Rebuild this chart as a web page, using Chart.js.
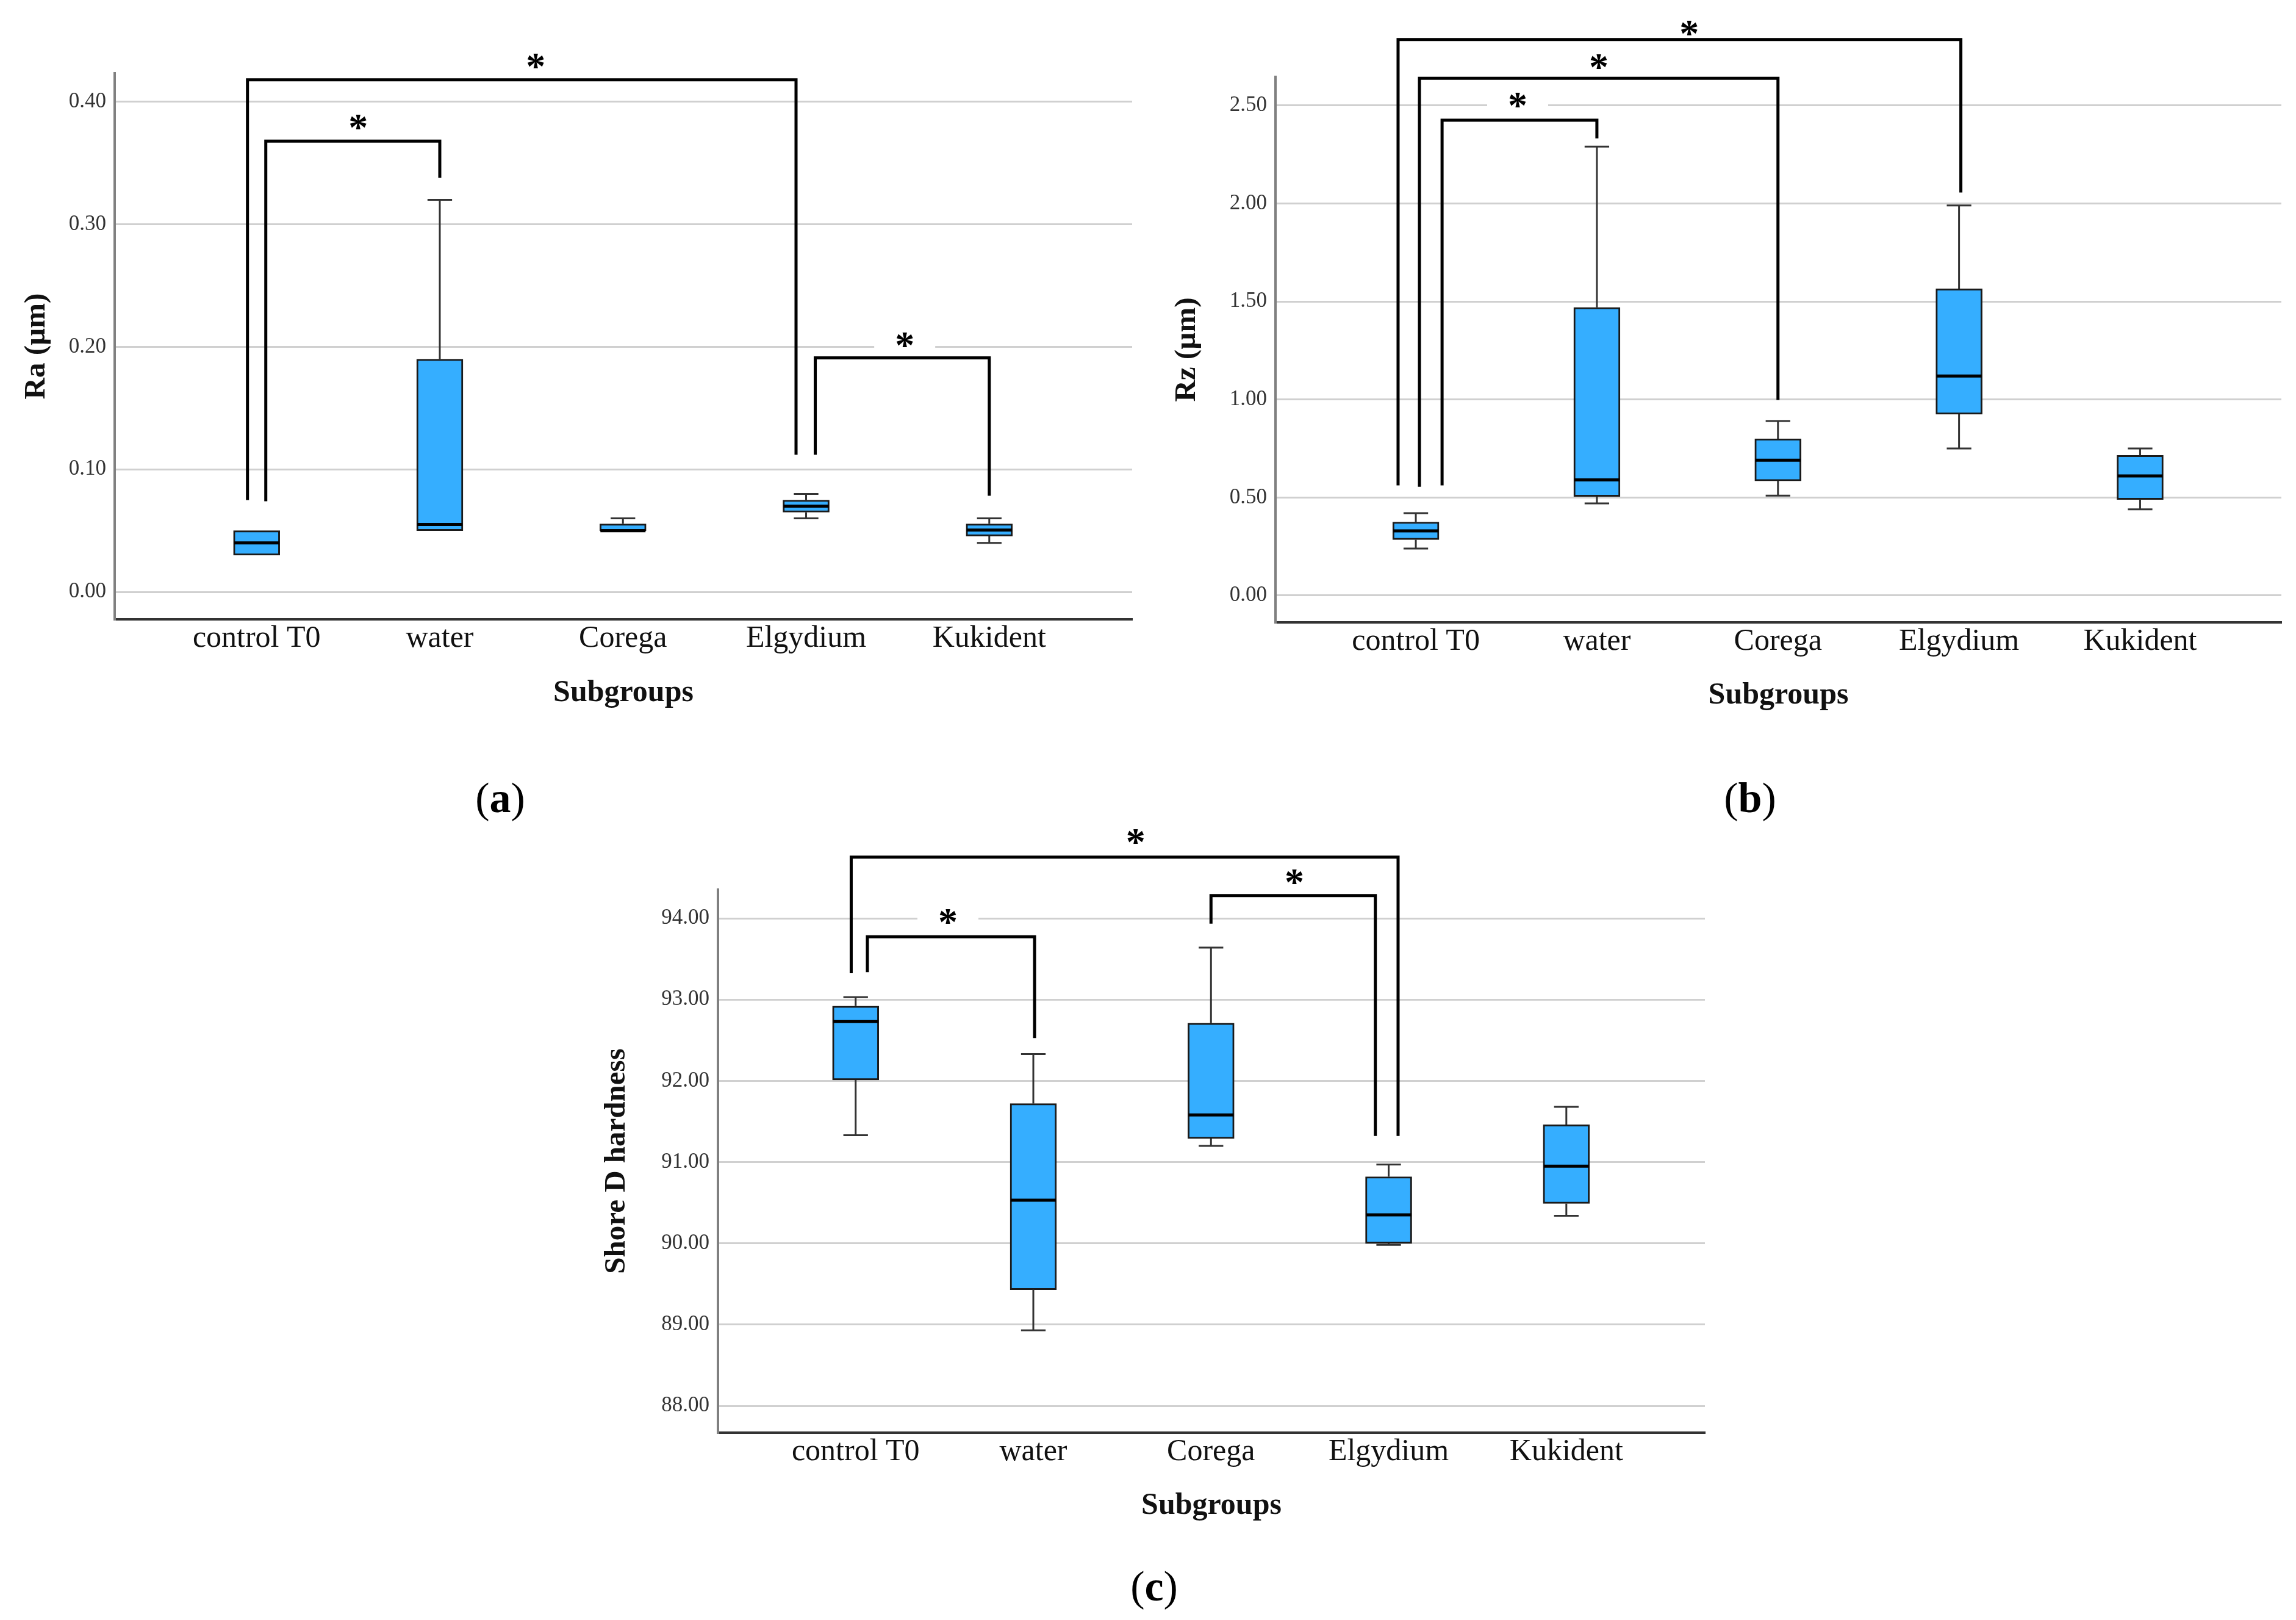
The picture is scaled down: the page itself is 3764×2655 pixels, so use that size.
<!DOCTYPE html>
<html>
<head>
<meta charset="utf-8">
<script src="https://cdn.jsdelivr.net/npm/chart.js@4.4.0/dist/chart.umd.min.js"></script>
<style>
html, body { margin: 0; padding: 0; background: #fff; }
body { width: 3764px; height: 2655px; position: relative; overflow: hidden; }
.panel { position: absolute; }
.tag { position: absolute; font-family: 'Liberation Serif', serif; font-size: 70px; color: #000;
       transform: translate(-50%, -50%); line-height: 1; white-space: nowrap; }
</style>
</head>
<body>
<div class="panel" style="left:0;top:0;width:1880px;height:1200px"><canvas id="chartA"></canvas></div>
<div class="panel" style="left:1880px;top:0;width:1884px;height:1200px"><canvas id="chartB"></canvas></div>
<div class="panel" style="left:950px;top:1300px;width:1900px;height:1355px"><canvas id="chartC"></canvas></div>
<div class="tag" style="left:820px;top:1308px">(<b>a</b>)</div>
<div class="tag" style="left:2869px;top:1308px">(<b>b</b>)</div>
<div class="tag" style="left:1892px;top:2600px">(<b>c</b>)</div>
<script>
const categories = ['control T0', 'water', 'Corega', 'Elgydium', 'Kukident'];

// (a) Ra (µm)
const raMin    = [0.03, 0.05, 0.05, 0.06, 0.04];
const raQ1     = [0.03, 0.05, 0.05, 0.065, 0.0455];
const raMedian = [0.04, 0.055, 0.05, 0.07, 0.0505];
const raQ3     = [0.05, 0.19, 0.0555, 0.075, 0.0555];
const raMax    = [0.05, 0.32, 0.06, 0.08, 0.06];

// (b) Rz (µm)
const rzMin    = [0.24, 0.47, 0.51, 0.75, 0.44];
const rzQ1     = [0.285, 0.505, 0.585, 0.925, 0.49];
const rzMedian = [0.33, 0.59, 0.69, 1.12, 0.61];
const rzQ3     = [0.375, 1.47, 0.80, 1.565, 0.715];
const rzMax    = [0.42, 2.29, 0.89, 1.99, 0.75];

// (c) Shore D hardness
const hdMin    = [91.33, 88.93, 91.20, 89.98, 90.34];
const hdQ1     = [92.01, 89.43, 91.29, 90.00, 90.49];
const hdMedian = [92.73, 90.53, 91.58, 90.35, 90.95];
const hdQ3     = [92.92, 91.72, 92.71, 90.82, 91.46];
const hdMax    = [93.03, 92.33, 93.64, 90.97, 91.68];

// significance brackets: [from, to, bracket top, left end, right end]
const raPairs = [[0, 3, 0.418, 0.075, 0.112], [0, 1, 0.368, 0.074, 0.338], [3, 4, 0.191, 0.112, 0.0785]];
const rzPairs = [[0, 3, 2.837, 0.562, 2.056], [0, 2, 2.639, 0.555, 0.998], [0, 1, 2.425, 0.562, 2.332]];
const hdPairs = [[0, 3, 94.752, 93.325, 91.321], [0, 1, 93.773, 93.338, 92.527], [2, 3, 94.279, 93.935, 91.321]];

// horizontal nudge of bracket legs (in category units) so they don't overlap
const raLegShift = [[-0.05, -0.055], [0.05, 0], [0.05, 0]];
const rzLegShift = [[-0.098, 0.01], [0.02, 0], [0.145, 0]];
const hdLegShift = [[-0.025, 0.053], [0.066, 0.007], [0, -0.075]];

// asterisk placement relative to bracket middle / top (px)
const raStarPos = [[23, 31], [9, 31], [4, 30]];
const rzStarPos = [[16, 19], [0, 27], [-3, 33]];
const hdStarPos = [[18, 34], [-5, 33], [2, 31]];

Chart.defaults.font.family = "'Liberation Serif', serif";
Chart.defaults.color = '#222';

function boxExtras(stats, pairs, shifts, stars) {
    const starAt = (x, y, p, k) => {
        const x1 = x.getPixelForValue(p[0] + shifts[k][0]);
        const x2 = x.getPixelForValue(p[1] + shifts[k][1]);
        return [(x1 + x2) / 2 + stars[k][0], y.getPixelForValue(p[2]) - stars[k][1]];
    };
    return {
        id: 'boxExtras',
        beforeDatasetsDraw(chart) {
            const { ctx, scales: { x, y } } = chart;
            ctx.save();
            ctx.fillStyle = '#fff';
            pairs.forEach((p, k) => {
                const [sx, sy] = starAt(x, y, p, k);
                ctx.fillRect(sx - 50, sy - 22, 100, 44);
            });
            ctx.restore();
        },
        afterDatasetsDraw(chart) {
            const { ctx, scales: { x, y } } = chart;
            const bars = chart.getDatasetMeta(0).data;
            ctx.save();
            bars.forEach((bar, i) => {
                const cx = bar.x, hw = bar.width / 2, cap = hw * 0.53;
                ctx.strokeStyle = '#333';
                ctx.lineWidth = 3;
                ctx.beginPath();
                if (stats.max[i] > stats.q3[i]) {
                    const a = y.getPixelForValue(stats.q3[i]), b = y.getPixelForValue(stats.max[i]);
                    ctx.moveTo(cx, a); ctx.lineTo(cx, b);
                    ctx.moveTo(cx - cap, b); ctx.lineTo(cx + cap, b);
                }
                if (stats.min[i] < stats.q1[i]) {
                    const a = y.getPixelForValue(stats.q1[i]), b = y.getPixelForValue(stats.min[i]);
                    ctx.moveTo(cx, a); ctx.lineTo(cx, b);
                    ctx.moveTo(cx - cap, b); ctx.lineTo(cx + cap, b);
                }
                ctx.stroke();
                // median
                const m = y.getPixelForValue(stats.median[i]);
                ctx.strokeStyle = '#000';
                ctx.lineWidth = 5;
                ctx.beginPath();
                ctx.moveTo(cx - hw + 1, m); ctx.lineTo(cx + hw - 1, m);
                ctx.stroke();
            });

            // brackets with asterisks
            ctx.strokeStyle = '#000';
            ctx.lineWidth = 5;
            ctx.lineJoin = 'miter';
            ctx.font = "bold 64px 'Liberation Serif'";
            ctx.textAlign = 'center';
            ctx.textBaseline = 'alphabetic';
            pairs.forEach((p, k) => {
                const x1 = x.getPixelForValue(p[0] + shifts[k][0]);
                const x2 = x.getPixelForValue(p[1] + shifts[k][1]);
                const yt = y.getPixelForValue(p[2]);
                ctx.beginPath();
                ctx.moveTo(x1, y.getPixelForValue(p[3]));
                ctx.lineTo(x1, yt);
                ctx.lineTo(x2, yt);
                ctx.lineTo(x2, y.getPixelForValue(p[4]));
                ctx.stroke();
                const mt = ctx.measureText('*');
                const [sx, sy] = starAt(x, y, p, k);
                ctx.fillStyle = '#000';
                ctx.fillText('*', sx, sy + (mt.actualBoundingBoxAscent - mt.actualBoundingBoxDescent) / 2);
            });
            ctx.restore();
        }
    };
}

function makeChart(id, o) {
    const stats = { min: o.min, q1: o.q1, median: o.median, q3: o.q3, max: o.max };
    new Chart(document.getElementById(id), {
        type: 'bar',
        data: {
            datasets: [{
                data: categories.map((c, i) => ({ x: i, y: [o.q1[i], o.q3[i]] })),
                backgroundColor: '#35aeff',
                borderColor: '#1a1a1a',
                borderWidth: 3,
                borderSkipped: false,
                barThickness: 76
            }]
        },
        options: {
            responsive: true,
            maintainAspectRatio: false,
            animation: false,
            layout: { padding: { top: o.padTop, right: o.padRight, left: 0, bottom: 0 } },
            plugins: { legend: { display: false }, tooltip: { enabled: false } },
            scales: {
                x: {
                    type: 'linear',
                    min: -0.775,
                    max: 4.78,
                    offset: false,
                    grid: { display: false, drawTicks: false },
                    border: { display: true, color: '#333', width: 4 },
                    ticks: {
                        stepSize: 1,
                        includeBounds: false,
                        padding: 2,
                        color: '#111',
                        maxRotation: 0,
                        autoSkip: false,
                        font: { size: 50 },
                        callback: v => categories[v] ?? ''
                    },
                    title: {
                        display: true,
                        text: 'Subgroups',
                        color: '#111',
                        font: { size: 50, weight: 'bold' },
                        padding: { top: 0, bottom: o.xTitlePad }
                    },
                    afterFit: s => { s.height = o.xHeight; }
                },
                y: {
                    min: o.yMin,
                    max: o.yMax,
                    grid: { color: '#d0d0d0', lineWidth: 3, drawTicks: false },
                    border: { display: true, color: '#808080', width: 4 },
                    ticks: {
                        stepSize: o.step,
                        includeBounds: false,
                        padding: 14,
                        color: '#333',
                        font: { family: "'Liberation Serif', serif", size: 35 },
                        callback: v => Number(v).toFixed(2)
                    },
                    title: {
                        display: true,
                        text: o.yTitle,
                        color: '#111',
                        font: { size: 49, weight: 'bold' },
                        padding: { top: o.yTitlePad, bottom: 0 }
                    },
                    afterFit: s => { s.width = o.yWidth; }
                }
            }
        },
        plugins: [boxExtras(stats, o.pairs, o.shifts, o.stars)]
    });
}

makeChart('chartA', {
    min: raMin, q1: raQ1, median: raMedian, q3: raQ3, max: raMax,
    pairs: raPairs, shifts: raLegShift, stars: raStarPos,
    yMin: -0.0224, yMax: 0.4234, step: 0.1, yTitle: 'Ra (µm)',
    padTop: 120, padRight: 24, yWidth: 188, xHeight: 185, xTitlePad: 34, yTitlePad: 31
});

makeChart('chartB', {
    min: rzMin, q1: rzQ1, median: rzMedian, q3: rzQ3, max: rzMax,
    pairs: rzPairs, shifts: rzLegShift, stars: rzStarPos,
    yMin: -0.137, yMax: 2.646, step: 0.5, yTitle: 'Rz (µm)',
    padTop: 126, padRight: 24, yWidth: 211, xHeight: 180, xTitlePad: 30, yTitlePad: 37
});

makeChart('chartC', {
    min: hdMin, q1: hdQ1, median: hdMedian, q3: hdQ3, max: hdMax,
    pairs: hdPairs, shifts: hdLegShift, stars: hdStarPos,
    yMin: 87.67, yMax: 94.353, step: 1, yTitle: 'Shore D hardness',
    padTop: 158, padRight: 55, yWidth: 227, xHeight: 307, xTitlePad: 157, yTitlePad: 32
});
</script>
</body>
</html>
